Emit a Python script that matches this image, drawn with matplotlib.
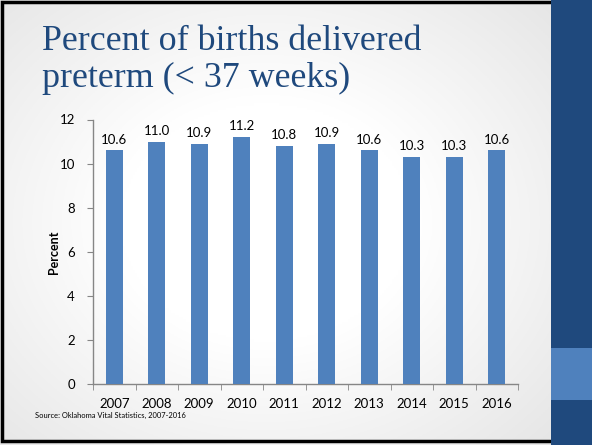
import numpy as np
import matplotlib
matplotlib.use("Agg")
import matplotlib.pyplot as plt
from matplotlib.patches import Rectangle

years = ["2007", "2008", "2009", "2010", "2011", "2012", "2013", "2014", "2015", "2016"]
percent = [10.6, 11.0, 10.9, 11.2, 10.8, 10.9, 10.6, 10.3, 10.3, 10.6]
yticks = [0, 2, 4, 6, 8, 10, 12]

W, H = 592, 445
fig = plt.figure(figsize=(W / 100, H / 100), dpi=100)

# slide background with soft gradient
bg = fig.add_axes([0, 0, 1, 1], zorder=-10)
yy, xx = np.mgrid[0:1:200j, 0:1:300j]
r = np.sqrt(((xx - 0.45) / 0.55) ** 2 + ((yy - 0.5) / 0.6) ** 2)
v = 1 - 0.13 * np.clip(r - 0.45, 0, None)
bg.imshow(np.dstack([v, v, v]), extent=[0, 1, 0, 1], aspect="auto", origin="upper")
bg.set_xlim(0, 1)
bg.set_ylim(0, 1)
bg.axis("off")

# frame border
fig.patches.append(Rectangle((1.5 / W, 4 / H), (W - 3) / W, (H - 6) / H, transform=fig.transFigure,
                             fill=False, edgecolor="black", linewidth=2.5, zorder=5))
# right band
fig.patches.append(Rectangle((551 / W, 0), (W - 551) / W, 1, transform=fig.transFigure,
                             facecolor="#1F497D", edgecolor="none", zorder=6))
fig.patches.append(Rectangle((551 / W, (H - 400) / H), (W - 551) / W, 52 / H, transform=fig.transFigure,
                             facecolor="#4F81BD", edgecolor="none", zorder=7))

# title
title_kw = dict(family="Liberation Serif", fontsize=25.8, color="#1F497D", va="baseline", ha="left")
fig.text(42 / W, 1 - 50 / H, "Percent of births delivered", **title_kw)
fig.text(42 / W, 1 - 87 / H, "preterm (< 37 weeks)", **title_kw)

# chart
ax = fig.add_axes([93 / W, (H - 384) / H, (518 - 93) / W, (384 - 119.5) / H])
ax.patch.set_alpha(0)
x = np.arange(len(years))
ax.bar(x, percent, width=0.4, color="#4F81BD", zorder=3)
for xi, p in zip(x, percent):
    ax.text(xi, p + 0.22, f"{p:.1f}", ha="center", va="bottom", fontsize=9.5, family="Lato", color="black")

ax.set_xlim(-0.5, len(years) - 0.5)
ax.set_ylim(0, 12)
ax.set_yticks(yticks)
ax.set_yticklabels([str(t) for t in yticks], family="Lato", fontsize=9.5)
ax.set_xticks(x)
ax.set_xticklabels(years, family="Lato", fontsize=9.5)
ax.tick_params(axis="x", length=0, pad=10)
ax.set_xticks(np.arange(-0.5, len(years)), minor=True)
ax.tick_params(axis="x", which="minor", length=4, color="#868686", direction="out")
ax.tick_params(axis="y", length=4, color="#868686", direction="out", pad=9)
for s in ["top", "right"]:
    ax.spines[s].set_visible(False)
for s in ["left", "bottom"]:
    ax.spines[s].set_color("#868686")
    ax.spines[s].set_linewidth(1)
ax.set_ylabel("Percent", family="Lato", fontsize=9, fontweight="bold")
ax.yaxis.set_label_coords(-0.078, 0.5)

fig.text(35 / W, 1 - 418 / H, "Source: Oklahoma Vital Statistics, 2007-2016", family="Lato",
         fontsize=5.4, ha="left", va="baseline", color="black")

fig.savefig("out.png", dpi=100)
